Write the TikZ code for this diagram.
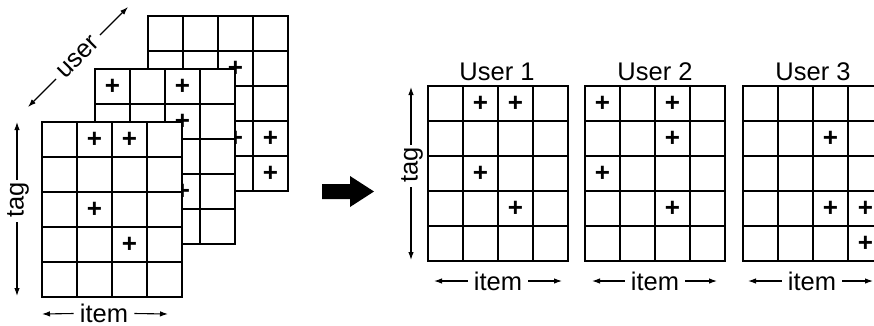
\documentclass[tikz,border=0pt]{standalone}
\usepackage{fontspec}
\setmainfont{Liberation Sans}
\usetikzlibrary{arrows.meta}
\newcommand\mygrid[2]{%
  \fill[white] (#1,#2) rectangle ++(140,175);
  \foreach \i in {0,...,4} \draw[gridline] (#1+\i*35,#2) -- (#1+\i*35,#2+175);
  \foreach \j in {0,...,5} \draw[gridline] (#1,#2+\j*35) -- (#1+140,#2+\j*35);
}
\newcommand\pl[4]{\node[plusmark] at (#1+17.5+#3*35,#2+17.5+#4*35) {+};}
\begin{document}
\begin{tikzpicture}[x=1pt,y=-1pt,
  gridline/.style={line width=1.2pt, line cap=rect},
  lbl/.style={font=\fontsize{25.5}{27}\selectfont, inner xsep=6pt, inner ysep=0pt},
  title/.style={font=\fontsize{25.5}{27}\selectfont, inner sep=0pt},
  plusmark/.style={font=\bfseries\fontsize{26}{26}\selectfont, inner sep=0pt},
  axis/.style={line width=1.1pt, -{Latex[length=8pt,width=5.5pt]}}]
\useasboundingbox (0,0) rectangle (874,325);
\clip (0,0) rectangle (874,325);
% left stack: back (User 3)
\mygrid{148}{16}
\pl{148}{16}{2}{1}\pl{148}{16}{2}{3}\pl{148}{16}{3}{3}\pl{148}{16}{3}{4}
% middle (User 2)
\mygrid{95}{69}
\pl{95}{69}{0}{0}\pl{95}{69}{2}{0}\pl{95}{69}{2}{1}\pl{95}{69}{0}{2}\pl{95}{69}{2}{3}
% front (User 1)
\mygrid{42}{122}
\pl{42}{122}{1}{0}\pl{42}{122}{2}{0}\pl{42}{122}{1}{2}\pl{42}{122}{2}{3}
% left axes
\coordinate (u1) at (28,107); \coordinate (u2) at (128,7);
\node[lbl, rotate=45] (ulab) at (78,57) {user};
\draw[axis] (ulab.west) -- (u1);
\draw[axis] (ulab.east) -- (u2);
\coordinate (t1) at (17,122); \coordinate (t2) at (17,296);
\node[lbl, rotate=90] (tlab) at (18,200) {tag};
\draw[axis] (17,200) ++(0,-20) -- (t1);
\draw[axis] (17,200) ++(0,22) -- (t2);
\coordinate (i1) at (42,314); \coordinate (i2) at (168,314);
\node[lbl] (ilab) at (104,313.5) {item};
\draw[axis] (ilab.west) -- (i1);
\draw[axis] (ilab.east) -- (i2);
% big arrow
\fill (322,184) -- (350,184) -- (350,176) -- (374,191.5) -- (350,207) -- (350,199) -- (322,199) -- cycle;
% right grids
\mygrid{428}{86}
\pl{428}{86}{1}{0}\pl{428}{86}{2}{0}\pl{428}{86}{1}{2}\pl{428}{86}{2}{3}
\mygrid{585}{86}
\pl{585}{86}{0}{0}\pl{585}{86}{2}{0}\pl{585}{86}{2}{1}\pl{585}{86}{0}{2}\pl{585}{86}{2}{3}
\mygrid{743}{86}
\pl{743}{86}{2}{1}\pl{743}{86}{2}{3}\pl{743}{86}{3}{3}\pl{743}{86}{3}{4}
\node[title] (h1) at (497,72) {User 1};
\node[title] (h2) at (655,72) {User 2};
\node[title] (h3) at (813,72) {User 3};
\coordinate (rt1) at (411,87); \coordinate (rt2) at (411,260);
\node[lbl, rotate=90] (rtlab) at (412,165) {tag};
\draw[axis] (411,165) ++(0,-20) -- (rt1);
\draw[axis] (411,165) ++(0,22) -- (rt2);
\coordinate (a1) at (434,281); \coordinate (a2) at (562,281);
\node[lbl] (alab) at (498,281) {item};
\draw[axis] (alab.west) -- (a1);
\draw[axis] (alab.east) -- (a2);
\coordinate (b1) at (592,281); \coordinate (b2) at (717,281);
\node[lbl] (blab) at (655,281) {item};
\draw[axis] (blab.west) -- (b1);
\draw[axis] (blab.east) -- (b2);
\coordinate (c1) at (748,281); \coordinate (c2) at (873,281);
\node[lbl] (clab) at (812,281) {item};
\draw[axis] (clab.west) -- (c1);
\draw[axis] (clab.east) -- (c2);
\end{tikzpicture}
\end{document}
